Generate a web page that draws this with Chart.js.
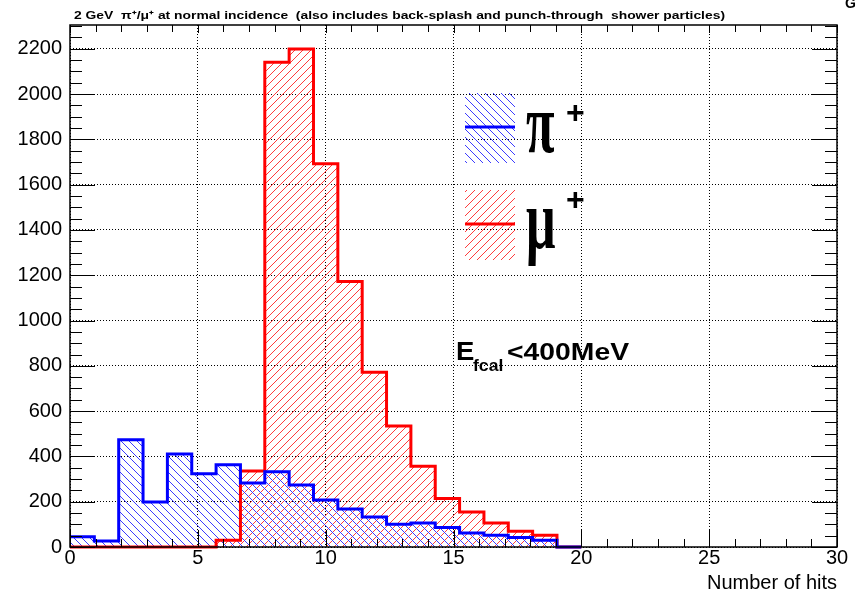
<!DOCTYPE html>
<html>
<head>
<meta charset="utf-8">
<script src="https://cdn.jsdelivr.net/npm/chart.js@4.4.1/dist/chart.umd.min.js"></script>
<style>
  html, body { margin: 0; padding: 0; background: #fff; }
</style>
</head>
<body>
<canvas id="graficoHits" width="857" height="595"></canvas>
<script>
// histogram binning (21 bins between 0 and 20 hits)
const binLow = 0;
const binHigh = 20;
const nBins = 21;

// entries per bin
const piHits = [45, 26, 474, 199, 411, 323, 363, 283, 332, 274, 208, 168, 133, 100, 106, 86, 62, 52, 42, 30, 0];
const muHits = [0, 0, 0, 0, 0, 0, 30, 336, 2141, 2199, 1692, 1172, 772, 534, 357, 214, 155, 106, 69, 52, 0];

// axes
const xMin = 0, xMax = 30, xStep = 5, xMinorStep = 1;
const yMin = 0, yMax = 2305, yStep = 200, yMinorStep = 50;

const titulo = '2 GeV  \u03c0\u207a/\u03bc\u207a at normal incidence  (also includes back-splash and punch-through  shower particles)';
const leyenda = [
  { simbolo: '\u03c0', color: '#0000ff', rayas: 'rgb(60,60,255)', dir: -1 },
  { simbolo: '\u03bc', color: '#ff0000', rayas: 'rgb(255,60,60)', dir: 1 }
];

function histo(valores) {
  const ancho = (binHigh - binLow) / nBins;
  const pts = valores.map((v, i) => ({ x: binLow + i * ancho, y: v }));
  pts.push({ x: binHigh, y: 0 });
  return pts;
}

// diagonal hatching, one pixel per row (used under a clip)
function rayar(ctx, x0, y0, x1, y1, color, dir) {
  x0 = Math.floor(x0); y0 = Math.floor(y0); x1 = Math.ceil(x1); y1 = Math.ceil(y1);
  ctx.fillStyle = color;
  for (let y = y0; y < y1; y++) {
    const fase = dir > 0 ? ((-(x0 + y)) % 8 + 8) % 8 : ((y - x0) % 8 + 8) % 8;
    for (let x = x0 + fase; x < x1; x += 8) ctx.fillRect(x, y, 1, 1);
  }
}

function textoEscalado(ctx, txt, x, y, font, sx) {
  ctx.save();
  ctx.translate(x, y);
  ctx.scale(sx, 1);
  ctx.font = font;
  ctx.fillText(txt, 0, 0);
  ctx.restore();
}

function linea(ctx, x1, y1, x2, y2) {
  ctx.beginPath();
  ctx.moveTo(x1, y1);
  ctx.lineTo(x2, y2);
  ctx.stroke();
}

const marcoRoot = {
  id: 'marcoRoot',
  beforeDatasetsDraw(chart) {
    const ctx = chart.ctx;
    const { left, right, top, bottom } = chart.chartArea;
    const base = chart.scales.y.getPixelForValue(0);
    // hatch under each histogram, red first
    [1, 0].forEach(i => {
      const meta = chart.getDatasetMeta(i);
      const ds = chart.data.datasets[i];
      const pts = meta.data;
      ctx.save();
      ctx.beginPath();
      meta.dataset.path(ctx);
      ctx.lineTo(pts[pts.length - 1].x, base);
      ctx.lineTo(pts[0].x, base);
      ctx.closePath();
      ctx.clip();
      rayar(ctx, left, top, right, bottom, ds.hatchColor, ds.hatchDir);
      ctx.restore();
    });
    // legend boxes
    leyenda.forEach((l, i) => {
      const y0 = 93 + i * 97;
      ctx.save();
      ctx.beginPath();
      ctx.rect(465, y0, 50, 70);
      ctx.clip();
      rayar(ctx, 465, y0, 515, y0 + 70, l.rayas, l.dir);
      ctx.restore();
      ctx.save();
      ctx.strokeStyle = l.color;
      ctx.lineWidth = 3;
      linea(ctx, 465, y0 + 34, 515, y0 + 34);
      ctx.restore();
    });
  },
  afterDatasetsDraw(chart) {
    const ctx = chart.ctx;
    const { left, right, top, bottom } = chart.chartArea;
    const xs = chart.scales.x, ys = chart.scales.y;
    ctx.save();
    ctx.strokeStyle = '#000';
    ctx.lineWidth = 1;
    // ticks inside the frame
    for (let v = xMin; v <= xMax; v += xMinorStep) {
      const px = Math.round(xs.getPixelForValue(v)) + 0.5;
      const mayor = v % xStep === 0;
      linea(ctx, px, bottom, px, bottom - (mayor ? 17 : 8));
      linea(ctx, px, top, px, top + (mayor ? 8 : 7));
    }
    for (let v = yMin; v <= yMax; v += yMinorStep) {
      const py = Math.round(ys.getPixelForValue(v)) + 0.5;
      const mayor = v % yStep === 0;
      linea(ctx, left, py, left + (mayor ? 25 : 12), py);
      linea(ctx, right, py, right - (mayor ? 25 : 12), py);
    }
    ctx.lineWidth = 1.5;
    ctx.strokeRect(left, top, right - left, bottom - top);

    // legend symbols
    ctx.fillStyle = '#000';
    leyenda.forEach((l, i) => {
      const y0 = 93 + i * 97;
      textoEscalado(ctx, l.simbolo, 526, y0 + (i ? 58 : 59), 'bold 84px "Liberation Serif"', 0.62);
      textoEscalado(ctx, '+', 566, y0 + (i ? 20 : 30), 'bold 32px "Liberation Sans"', 1);
    });

    // energy cut label
    textoEscalado(ctx, 'E', 456, 360, 'bold 25px "Liberation Sans"', 1.1);
    textoEscalado(ctx, 'fcal', 473, 371, 'bold 16px "Liberation Sans"', 1.1);
    textoEscalado(ctx, '<400MeV', 507, 360, 'bold 24px "Liberation Sans"', 1.18);

    // title
    ctx.font = 'bold 11px "Liberation Sans"';
    const w = ctx.measureText(titulo).width;
    textoEscalado(ctx, titulo, 74, 19, 'bold 11px "Liberation Sans"', 651 / w);
    textoEscalado(ctx, 'G', 845, 8, 'bold 14px "Liberation Sans"', 1);
    ctx.restore();
  }
};

new Chart(document.getElementById('graficoHits'), {
  type: 'line',
  data: {
    datasets: [
      {
        label: '\u03c0+',
        data: histo(piHits),
        borderColor: leyenda[0].color,
        hatchColor: leyenda[0].rayas,
        hatchDir: leyenda[0].dir,
        borderWidth: 3,
        fill: false,
        stepped: 'before',
        pointRadius: 0,
        borderJoinStyle: 'miter',
        clip: false
      },
      {
        label: '\u03bc+',
        data: histo(muHits),
        borderColor: leyenda[1].color,
        hatchColor: leyenda[1].rayas,
        hatchDir: leyenda[1].dir,
        borderWidth: 3,
        fill: false,
        stepped: 'before',
        pointRadius: 0,
        borderJoinStyle: 'miter',
        clip: false
      }
    ]
  },
  options: {
    responsive: false,
    animation: false,
    devicePixelRatio: 1,
    layout: { padding: { left: 0, top: 25, right: 20, bottom: 0 } },
    plugins: { legend: { display: false }, tooltip: { enabled: false } },
    scales: {
      x: {
        type: 'linear',
        min: xMin,
        max: xMax,
        afterFit(s) { s.height = 48; s.paddingLeft = 0; s.paddingRight = 0; },
        ticks: {
          stepSize: xStep,
          padding: 1,
          color: '#000',
          maxRotation: 0,
          font: { family: 'Liberation Sans', size: 20, lineHeight: 1 }
        },
        grid: { color: '#000', lineWidth: 1, drawTicks: false },
        border: { display: false, dash: [1, 2] },
        title: {
          display: true,
          text: 'Number of hits',
          align: 'end',
          color: '#000',
          padding: { top: 0, bottom: 0 },
          font: { family: 'Liberation Sans', size: 20 }
        }
      },
      y: {
        min: yMin,
        max: yMax,
        afterFit(s) { s.width = 70; s.paddingTop = 0; s.paddingBottom = 0; },
        ticks: {
          stepSize: yStep,
          includeBounds: false,
          padding: 8,
          color: '#000',
          font: { family: 'Liberation Sans', size: 20 },
          callback: v => String(v)
        },
        grid: { color: '#000', lineWidth: 1, drawTicks: false },
        border: { display: false, dash: [1, 2] }
      }
    }
  },
  plugins: [marcoRoot]
});
</script>
</body>
</html>
